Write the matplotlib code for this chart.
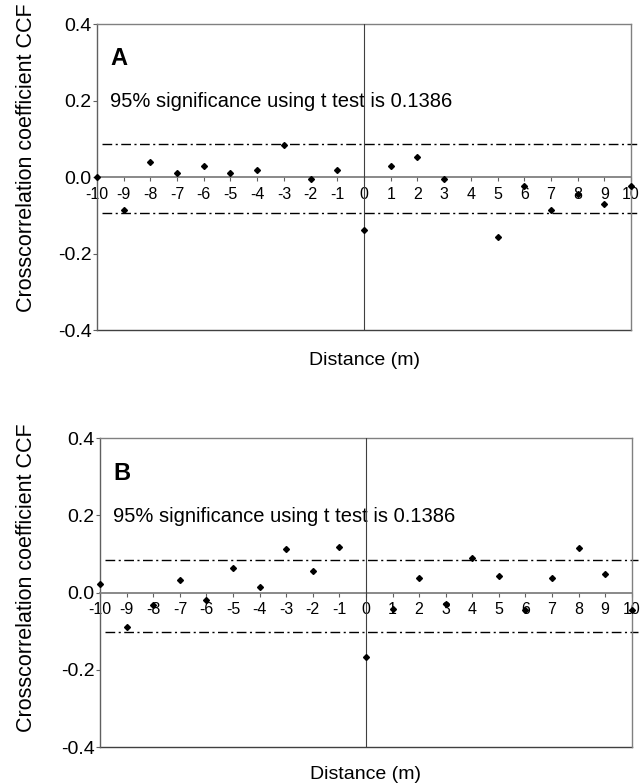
import numpy as np
import matplotlib.pyplot as plt

plt.rcParams['font.family'] = ['Liberation Sans', 'DejaVu Sans']

distance = np.arange(-10, 11)

# panel A crosscorrelation (no point visible at lag 4)
ccf_a = [0.0, -0.087, 0.041, 0.010, 0.028, 0.011, 0.020, 0.084, -0.004, 0.019,
         -0.137, 0.028, 0.053, -0.004, np.nan, -0.156, -0.023, -0.086, -0.043, -0.070, -0.023]
# panel B crosscorrelation
ccf_b = [0.023, -0.090, -0.032, 0.033, -0.019, 0.065, 0.016, 0.112, 0.056, 0.118,
         -0.166, -0.043, 0.037, -0.029, 0.091, 0.043, -0.046, 0.038, 0.115, 0.048, -0.045]

limits_a = (0.087, -0.093)
limits_b = (0.084, -0.102)
panel_labels = ['A', 'B']
note = '95% significance using t test is 0.1386'


def draw_panel(ax, ccf, limits, label, ylab_pos, xlab_y):
    ax.set_xlim(-10, 10)
    ax.set_ylim(-0.4, 0.4)

    # frame: moved x axis to zero, keep a box around the plot
    ax.spines['bottom'].set_position(('data', 0))
    ax.spines['bottom'].set_color('#808080')
    ax.spines['bottom'].set_linewidth(1.3)
    for s in ['top', 'right']:
        ax.spines[s].set_color('#808080')
        ax.spines[s].set_linewidth(1.0)
    ax.spines['left'].set_color('#606060')
    ax.spines['left'].set_linewidth(1.0)
    ax.axhline(-0.4, color='#404040', lw=1.0, clip_on=False)
    ax.axvline(0, color='#404040', lw=0.8, zorder=3)

    # significance limits
    for lim in limits:
        ax.plot([-9.8, 10.25], [lim, lim], color='black', lw=1.0,
                dashes=(7, 2.5, 1.5, 2.5), clip_on=False)

    ax.plot(distance, ccf, linestyle='none', marker='D', markersize=3,
            color='black', clip_on=False, zorder=4)

    ax.set_xticks(distance)
    ax.set_xticklabels([str(d) for d in distance])
    ax.tick_params(axis='x', direction='out', length=3, width=0.8, color='#606060',
                   labelsize=11.5, pad=4)
    ax.set_yticks([-0.4, -0.2, 0.0, 0.2, 0.4])
    ax.set_yticklabels(['-0.4', '-0.2', '0.0', '0.2', '0.4'])
    ax.tick_params(axis='y', direction='out', length=3, width=0.8, color='#606060',
                   labelsize=14, pad=1)

    ax.set_ylabel('Crosscorrelation coefficient CCF', fontsize=15.5)
    ax.yaxis.set_label_coords(*ylab_pos)
    ax.text(-9.5, 0.31, label, fontsize=17, fontweight='bold', va='center')
    ax.text(-9.5, 0.197, note, fontsize=14.5, va='center', zorder=2)
    ax.text(0.5, xlab_y, 'Distance (m)', transform=ax.transAxes,
            ha='center', va='center', fontsize=14)


fig = plt.figure(figsize=(6.42, 7.84), dpi=100)
ax_a = fig.add_axes([0.151, 0.579, 0.832, 0.390])
ax_b = fig.add_axes([0.156, 0.047, 0.828, 0.394])

draw_panel(ax_a, ccf_a, limits_a, panel_labels[0], (-0.112, 0.565), -0.098)
draw_panel(ax_b, ccf_b, limits_b, panel_labels[1], (-0.118, 0.55), -0.09)

fig.savefig('out.png', dpi=100)
